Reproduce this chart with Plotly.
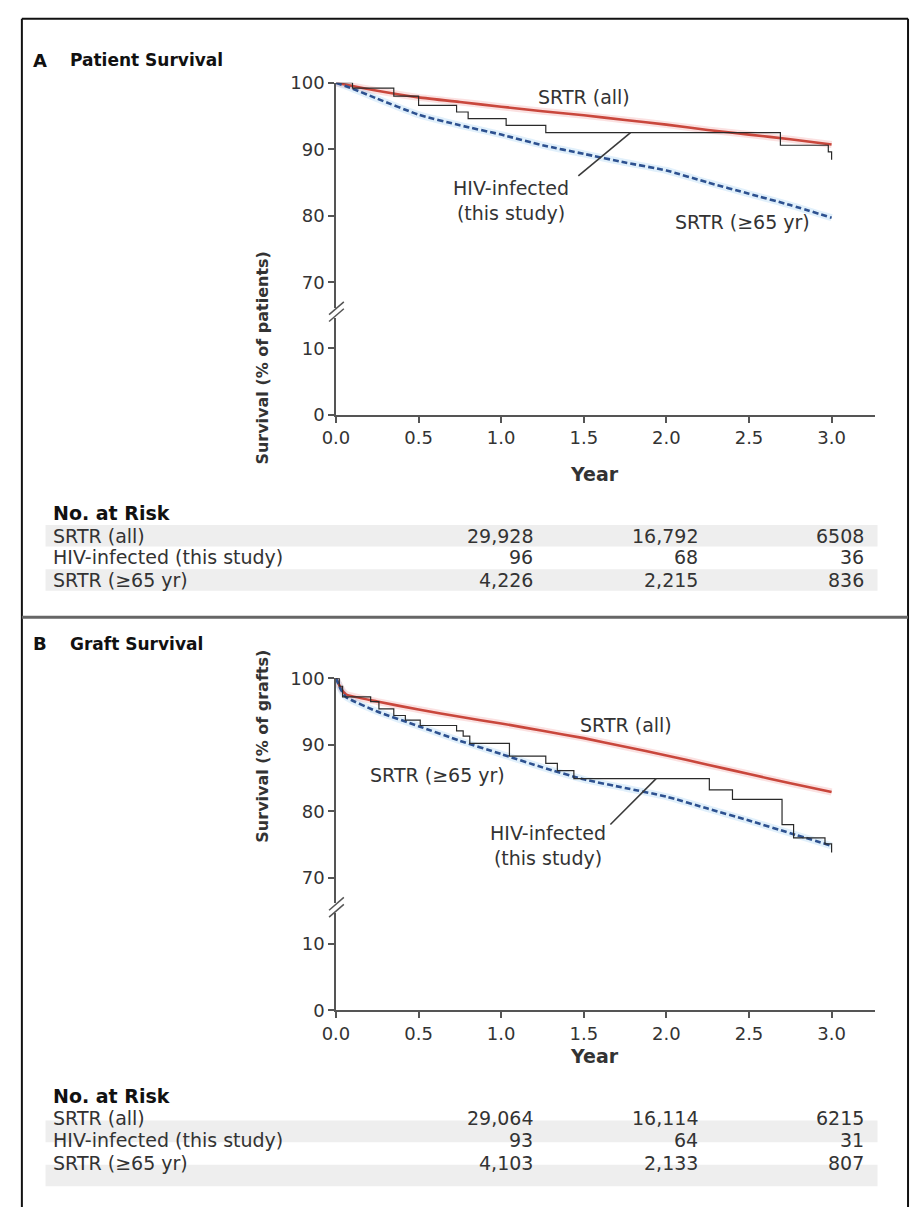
import plotly.graph_objects as go

W, H = 910, 1217

# ------------------------------------------------------------------ data
# Panel A - patient survival
years_A = [0, 0.1, 0.25, 0.5, 0.75, 1.0, 1.25, 1.5, 1.75, 2.0, 2.25, 2.5, 2.75, 3.0]
surv_all_A = [100, 99.5, 98.8, 97.8, 97.1, 96.4, 95.7, 95.1, 94.4, 93.7, 92.9, 92.2, 91.5, 90.7]
surv_65_A = [100, 99.1, 97.6, 95.2, 93.6, 92.2, 90.6, 89.3, 88.0, 86.8, 85.0, 83.3, 81.6, 79.7]
hiv_t_A = [0, 0.10, 0.35, 0.50, 0.73, 0.80, 1.03, 1.27, 2.69, 2.98, 3.0]
hiv_s_A = [100, 99.2, 98.0, 96.6, 95.6, 94.6, 93.6, 92.5, 90.6, 89.6, 88.4]

# Panel B - graft survival
years_B = [0, 0.03, 0.06, 0.25, 0.5, 0.75, 1.0, 1.25, 1.5, 1.75, 2.0, 2.25, 2.5, 2.75, 3.0]
surv_all_B = [100, 98.5, 97.6, 96.5, 95.3, 94.2, 93.2, 92.1, 91.0, 89.7, 88.4, 87.0, 85.6, 84.2, 82.9]
surv_65_B = [100, 98.3, 97.2, 95.0, 92.8, 90.6, 88.6, 86.6, 84.8, 83.5, 82.2, 80.4, 78.6, 76.7, 74.8]
hiv_t_B = [0, 0.02, 0.04, 0.21, 0.26, 0.35, 0.42, 0.51, 0.73, 0.77, 0.81, 1.05, 1.27, 1.34,
           1.44, 2.26, 2.40, 2.70, 2.77, 2.96, 3.0]
hiv_s_B = [100, 98.8, 97.2, 96.5, 95.4, 94.4, 93.7, 92.9, 92.1, 91.3, 90.2, 88.3, 87.2, 86.1,
           84.9, 83.2, 81.8, 78.0, 76.0, 75.1, 73.8]

# axis ticks
x_ticks = [0, 0.5, 1.0, 1.5, 2.0, 2.5, 3.0]
y_ticks_upper = [70, 80, 90, 100]
y_ticks_lower = [0, 10]

# number at risk
risk_rows = ["SRTR (all)", "HIV-infected (this study)", "SRTR (≥65 yr)"]
risk_years = [1.0, 2.0, 3.0]
risk_A = [["29,928", "16,792", "6508"], ["96", "68", "36"], ["4,226", "2,215", "836"]]
risk_B = [["29,064", "16,114", "6215"], ["93", "64", "31"], ["4,103", "2,133", "807"]]

# ------------------------------------------------------------------ style
FONT = "DejaVu Sans"
TXT = "#333333"
AX = "#555555"
RED = "#c9473c"
BLUE = "#2d5190"
FS = 19


def py(px):
    return 1 - px / H


def pxx(px):
    return px / W


fig = go.Figure()

panels = [
    dict(off=0, xa="x", xl="xaxis", ylo="y", yloname="yaxis", yup="y2", yupname="yaxis2",
         years=years_A, s_all=surv_all_A, s_65=surv_65_A, ht=hiv_t_A, hs=hiv_s_A,
         risk=risk_A, title="Patient Survival", letter="A", ytitle="Survival (% of patients)",
         lab_all=(1.503, 97.9), lab_65=(2.463, 79.0), lab_hiv=(1.062, 82.3),
         ptr=((1.467, 86.0), (1.783, 92.5))),
    dict(off=606, xa="x2", xl="xaxis2", ylo="y3", yloname="yaxis3", yup="y4", yupname="yaxis4",
         years=years_B, s_all=surv_all_B, s_65=surv_65_B, ht=hiv_t_B, hs=hiv_s_B,
         risk=risk_B, title="Graft Survival", letter="B", ytitle="Survival (% of grafts)",
         lab_all=(1.753, 92.9), lab_65=(0.614, 85.5), lab_hiv=(1.282, 74.8),
         ptr=((1.661, 78.0), (1.938, 84.9))),
]

shapes = []
annotations = []
layout_axes = {}

for p in panels:
    o = p["off"]
    # lower (0-10) axis segment: needs a trace so the subplot is drawn
    fig.add_trace(go.Scatter(x=[0], y=[0], xaxis=p["xa"], yaxis=p["ylo"], mode="lines",
                             line=dict(color="rgba(0,0,0,0)"), hoverinfo="skip", showlegend=False))
    # halos
    fig.add_trace(go.Scatter(x=p["years"], y=p["s_all"], xaxis=p["xa"], yaxis=p["yup"],
                             mode="lines", line=dict(color="rgba(235,120,120,0.22)", width=7, shape="spline", smoothing=0.5),
                             hoverinfo="skip", showlegend=False, cliponaxis=False))
    fig.add_trace(go.Scatter(x=p["years"], y=p["s_65"], xaxis=p["xa"], yaxis=p["yup"],
                             mode="lines", line=dict(color="rgba(120,185,235,0.22)", width=7, shape="spline", smoothing=0.5),
                             hoverinfo="skip", showlegend=False, cliponaxis=False))
    # curves
    fig.add_trace(go.Scatter(x=p["years"], y=p["s_all"], xaxis=p["xa"], yaxis=p["yup"],
                             mode="lines", line=dict(color=RED, width=2.6, shape="spline", smoothing=0.5),
                             name="SRTR (all)", showlegend=False, cliponaxis=False))
    fig.add_trace(go.Scatter(x=p["years"], y=p["s_65"], xaxis=p["xa"], yaxis=p["yup"],
                             mode="lines", line=dict(color=BLUE, width=2.6, dash="6px,3px", shape="spline", smoothing=0.5),
                             name="SRTR (≥65 yr)", showlegend=False, cliponaxis=False))
    fig.add_trace(go.Scatter(x=p["ht"], y=p["hs"], xaxis=p["xa"], yaxis=p["yup"],
                             mode="lines", line=dict(color="#2a2a2a", width=1.2, shape="hv"),
                             name="HIV-infected (this study)", showlegend=False, cliponaxis=False))

    # axes
    xdom = [pxx(327), pxx(874)]
    layout_axes[p["xl"]] = dict(domain=xdom, range=[0, 3.26], anchor=p["ylo"],
                                tickvals=x_ticks, tickformat=".1f", ticks="outside", ticklen=6,
                                tickcolor=AX, tickwidth=1.5, showline=True, linecolor=AX, linewidth=1.5,
                                showgrid=False, zeroline=False,
                                tickfont=dict(family=FONT, size=18, color=TXT))
    layout_axes[p["yloname"]] = dict(domain=[py(411 + o), py(312 + o)], range=[0, 14.59], anchor=p["xa"],
                                     tickvals=y_ticks_lower, ticks="outside", ticklen=6, tickcolor=AX, tickwidth=1.5,
                                     showline=True, linecolor=AX, linewidth=1.5, showgrid=False, zeroline=False,
                                     tickfont=dict(family=FONT, size=18, color=TXT))
    layout_axes[p["yupname"]] = dict(domain=[py(302 + o), py(73 + o)], range=[66.15, 100], anchor=p["xa"],
                                     tickvals=y_ticks_upper, ticks="outside", ticklen=6, tickcolor=AX, tickwidth=1.5,
                                     showline=True, linecolor=AX, linewidth=1.5, showgrid=False, zeroline=False,
                                     tickfont=dict(family=FONT, size=18, color=TXT))

    # axis break marks
    for dy in (0, 7):
        shapes.append(dict(type="line", xref="paper", yref="paper",
                           x0=pxx(320), y0=py(309 + dy + o), x1=pxx(335), y1=py(296 + dy + o),
                           line=dict(color=AX, width=1.5)))

    # pointer line
    (ax0, ay0), (ax1, ay1) = p["ptr"]
    shapes.append(dict(type="line", xref=p["xa"], yref=p["yup"], x0=ax0, y0=ay0, x1=ax1, y1=ay1,
                       line=dict(color="#3a3a3a", width=1.6)))

    # curve labels
    for txt, (lx, ly) in (("SRTR (all)", p["lab_all"]), ("SRTR (≥65 yr)", p["lab_65"]),
                          ("HIV-infected<br>(this study)", p["lab_hiv"])):
        annotations.append(dict(x=lx, y=ly, xref=p["xa"], yref=p["yup"], text=txt, showarrow=False,
                                font=dict(family=FONT, size=FS, color=TXT), align="center"))

    # panel title
    annotations.append(dict(x=pxx(17), y=py(38 + o), xref="paper", yref="paper", xanchor="left",
                            text="<b>" + p["letter"] + "</b>", showarrow=False,
                            font=dict(family=FONT, size=18, color="#111111")))
    annotations.append(dict(x=pxx(55), y=py(38 + o), xref="paper", yref="paper", xanchor="left",
                            text="<b>" + p["title"] + "</b>", showarrow=False,
                            font=dict(family=FONT, size=17, color="#111111")))
    # axis titles
    annotations.append(dict(x=pxx(241), y=py(242 + o), xref="paper", yref="paper", textangle=-90,
                            text="<b>" + p["ytitle"] + "</b>", showarrow=False,
                            font=dict(family=FONT, size=16, color=TXT)))
    annotations.append(dict(x=pxx(590), y=py(471 + o), xref="paper", yref="paper",
                            text="<b>Year</b>", showarrow=False,
                            font=dict(family=FONT, size=FS, color=TXT)))

    # number at risk table
    annotations.append(dict(x=pxx(38), y=py(511 + o), xref="paper", yref="paper", xanchor="left",
                            text="<b>No. at Risk</b>", showarrow=False,
                            font=dict(family=FONT, size=FS, color="#111111")))
    row_y = [534, 556, 579]
    for i, lab in enumerate(risk_rows):
        ry = row_y[i] + o
        if i != 1:
            shapes.append(dict(type="rect", xref="paper", yref="paper", layer="below",
                               x0=pxx(32), x1=pxx(877), y0=py(ry + 11), y1=py(ry - 11),
                               fillcolor="#eeeeee", line=dict(width=0)))
        annotations.append(dict(x=pxx(38), y=py(ry), xref="paper", yref="paper", xanchor="left",
                                text=lab, showarrow=False, font=dict(family=FONT, size=FS, color=TXT)))
        for j, yr in enumerate(risk_years):
            annotations.append(dict(x=yr, y=py(ry), xref=p["xa"], yref="paper", xanchor="right",
                                    xshift=34, text=p["risk"][i][j], showarrow=False,
                                    font=dict(family=FONT, size=FS, color=TXT)))

# frame and separator
shapes.append(dict(type="line", xref="paper", yref="paper", x0=pxx(8), x1=pxx(908), y0=py(8), y1=py(8),
                   line=dict(color="#111111", width=2)))
shapes.append(dict(type="line", xref="paper", yref="paper", x0=pxx(8), x1=pxx(8), y0=py(8), y1=py(1217),
                   line=dict(color="#111111", width=2)))
shapes.append(dict(type="line", xref="paper", yref="paper", x0=pxx(908), x1=pxx(908), y0=py(8), y1=py(1217),
                   line=dict(color="#111111", width=2)))
shapes.append(dict(type="line", xref="paper", yref="paper", x0=pxx(8), x1=pxx(908), y0=py(617), y1=py(617),
                   line=dict(color="#666666", width=3)))

fig.update_layout(width=W, height=H, margin=dict(l=0, r=0, t=0, b=0),
                  paper_bgcolor="white", plot_bgcolor="white", showlegend=False,
                  shapes=shapes, annotations=annotations, **layout_axes)

fig.write_html("out.html", config={"displayModeBar": False},
               post_script="document.body.style.margin='0';document.body.style.padding='0';"
                           "document.documentElement.style.overflow='hidden';")
